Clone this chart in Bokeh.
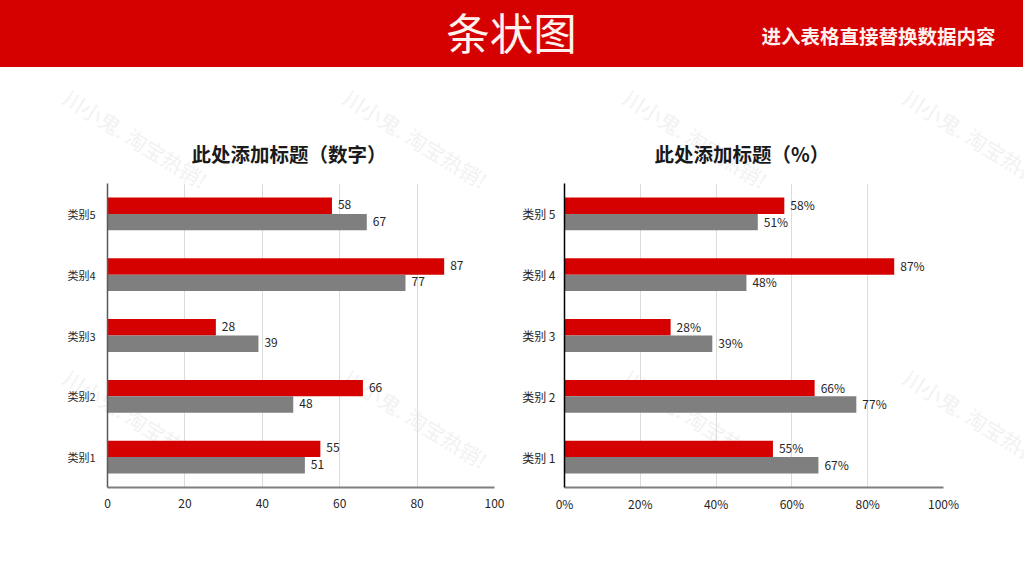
from bokeh.core.properties import value
from bokeh.embed import file_html
from bokeh.resources import INLINE
from bokeh.layouts import column, row
from bokeh.models import ColumnDataSource, Label, FactorRange, Range1d, PrintfTickFormatter, FixedTicker
from bokeh.plotting import figure
from bokeh.transform import dodge

FONT = "Noto Sans CJK SC"
RED = "#d50000"
GRAY = "#7f7f7f"

heading = "条状图"
subheading = "进入表格直接替换数据内容"
watermark = "川小鬼. 淘宝热销!"

left_title = "此处添加标题（数字）"
left_categories = ["类别1", "类别2", "类别3", "类别4", "类别5"]
left_red = [55, 66, 28, 87, 58]
left_gray = [51, 48, 39, 77, 67]

right_title = "此处添加标题（%）"
right_categories = ["类别 1", "类别 2", "类别 3", "类别 4", "类别 5"]
right_red = [55, 66, 28, 87, 58]
right_gray = [67, 77, 39, 48, 51]

x_ticks = [0, 20, 40, 60, 80, 100]


def chart(title, title_offset, cats, red, gray, suffix, axis_color, width, left, right, top, bottom,
          x_standoff, y_standoff, y_font):
    src = ColumnDataSource(dict(
        cat=cats, red=red, gray=gray,
        red_label=[f"{v}{suffix}" for v in red],
        gray_label=[f"{v}{suffix}" for v in gray],
    ))
    p = figure(width=width, height=509, output_backend="svg", toolbar_location=None,
               x_range=Range1d(0, 100), y_range=FactorRange(*cats),
               min_border_left=left, min_border_right=right, min_border_top=top, min_border_bottom=bottom,
               outline_line_color=None, background_fill_alpha=0, border_fill_alpha=0)
    p.y_range.range_padding = 0
    p.y_range.factor_padding = 0
    p.y_range.group_padding = 0

    p.title.text = title
    p.title.align = "left"
    p.title.offset = title_offset
    p.title.text_font = FONT
    p.title.text_font_size = "19.5px"
    p.title.text_font_style = "bold"
    p.title.text_color = "#1a1a1a"
    p.title.standoff = 32

    p.hbar(y=dodge("cat", 0.135, range=p.y_range), right="red", left=0, height=0.27, source=src,
           color=RED, line_color=None)
    p.hbar(y=dodge("cat", -0.135, range=p.y_range), right="gray", left=0, height=0.27, source=src,
           color=GRAY, line_color=None)
    p.text(x="red", y=dodge("cat", 0.135, range=p.y_range), text="red_label", source=src, x_offset=6,
           y_offset=-1, text_font=value(FONT), text_font_size="12px", text_color="#262626",
           text_align="left", text_baseline="middle")
    p.text(x="gray", y=dodge("cat", -0.135, range=p.y_range), text="gray_label", source=src, x_offset=6,
           y_offset=-1, text_font=value(FONT), text_font_size="12px", text_color="#262626",
           text_align="left", text_baseline="middle")

    p.ygrid.grid_line_color = None
    p.xgrid.grid_line_color = "#dcdcdc"
    p.xgrid.grid_line_width = 1
    p.xgrid.level = "underlay"
    p.xaxis.ticker = FixedTicker(ticks=x_ticks)
    p.xaxis.formatter = PrintfTickFormatter(format="%d" + suffix.replace("%", "%%"))
    for ax in (p.xaxis, p.yaxis):
        ax.major_tick_line_color = None
        ax.minor_tick_line_color = None
        ax.major_label_text_font = FONT
        ax.major_label_text_color = "#262626"
    p.xaxis.major_label_text_font_size = "12px"
    p.xaxis.major_label_standoff = x_standoff
    p.xaxis.axis_line_color = "#7f7f7f"
    p.xaxis.axis_line_width = 2
    p.yaxis.major_label_text_font_size = y_font
    p.yaxis.major_label_standoff = y_standoff
    p.yaxis.axis_line_color = axis_color
    p.yaxis.axis_line_width = 1.5
    return p


header = figure(width=1025, height=68, output_backend="svg", toolbar_location=None,
                x_range=(0, 1), y_range=(0, 1), min_border=0, outline_line_color=None,
                background_fill_color=RED, border_fill_color=RED, margin=(-1, 0, 0, -1))
header.axis.visible = False
header.grid.visible = False
header.add_layout(Label(x=512, y=36, x_units="screen", y_units="screen", text=heading,
                        text_font=FONT, text_font_size="43.5px", text_color="#fff2ee",
                        text_align="center", text_baseline="middle"))
header.add_layout(Label(x=879, y=32, x_units="screen", y_units="screen", text=subheading,
                        text_font=FONT, text_font_size="19.5px", text_font_style="bold", text_color="#fff2ee",
                        text_align="center", text_baseline="middle"))

# Faint watermark layer that lies behind both charts, across the whole body of the slide.
backdrop = figure(width=1024, height=509, output_backend="svg", toolbar_location=None,
                  x_range=(0, 1), y_range=(0, 1), min_border=0, outline_line_color=None,
                  background_fill_color="white", border_fill_color="white")
backdrop.axis.visible = False
backdrop.grid.visible = False
for cx in (135, 415, 695, 975):
    for cy in (438, 158):
        backdrop.add_layout(Label(x=cx, y=cy, x_units="screen", y_units="screen", text=watermark,
                                  angle=-32, angle_units="deg", text_font=FONT, text_font_size="21px",
                                  text_color="#f2f2f2", text_align="center", text_baseline="middle",
                                  level="underlay"))

left = chart(left_title, 84, left_categories, left_red, left_gray, "", "#595959",
             515, 107, 21, 115, 89, 5, 6, "11px")
right = chart(right_title, 90, right_categories, right_red, right_gray, "%", "#000000",
              509, 49, 81, 116, 88, 1, 3, "12px")

charts = row(left, right, spacing=0, margin=(-509, 0, 0, 0))
page = column(header, backdrop, charts, spacing=0)

open("out.html", "w").write(file_html(page, INLINE))
